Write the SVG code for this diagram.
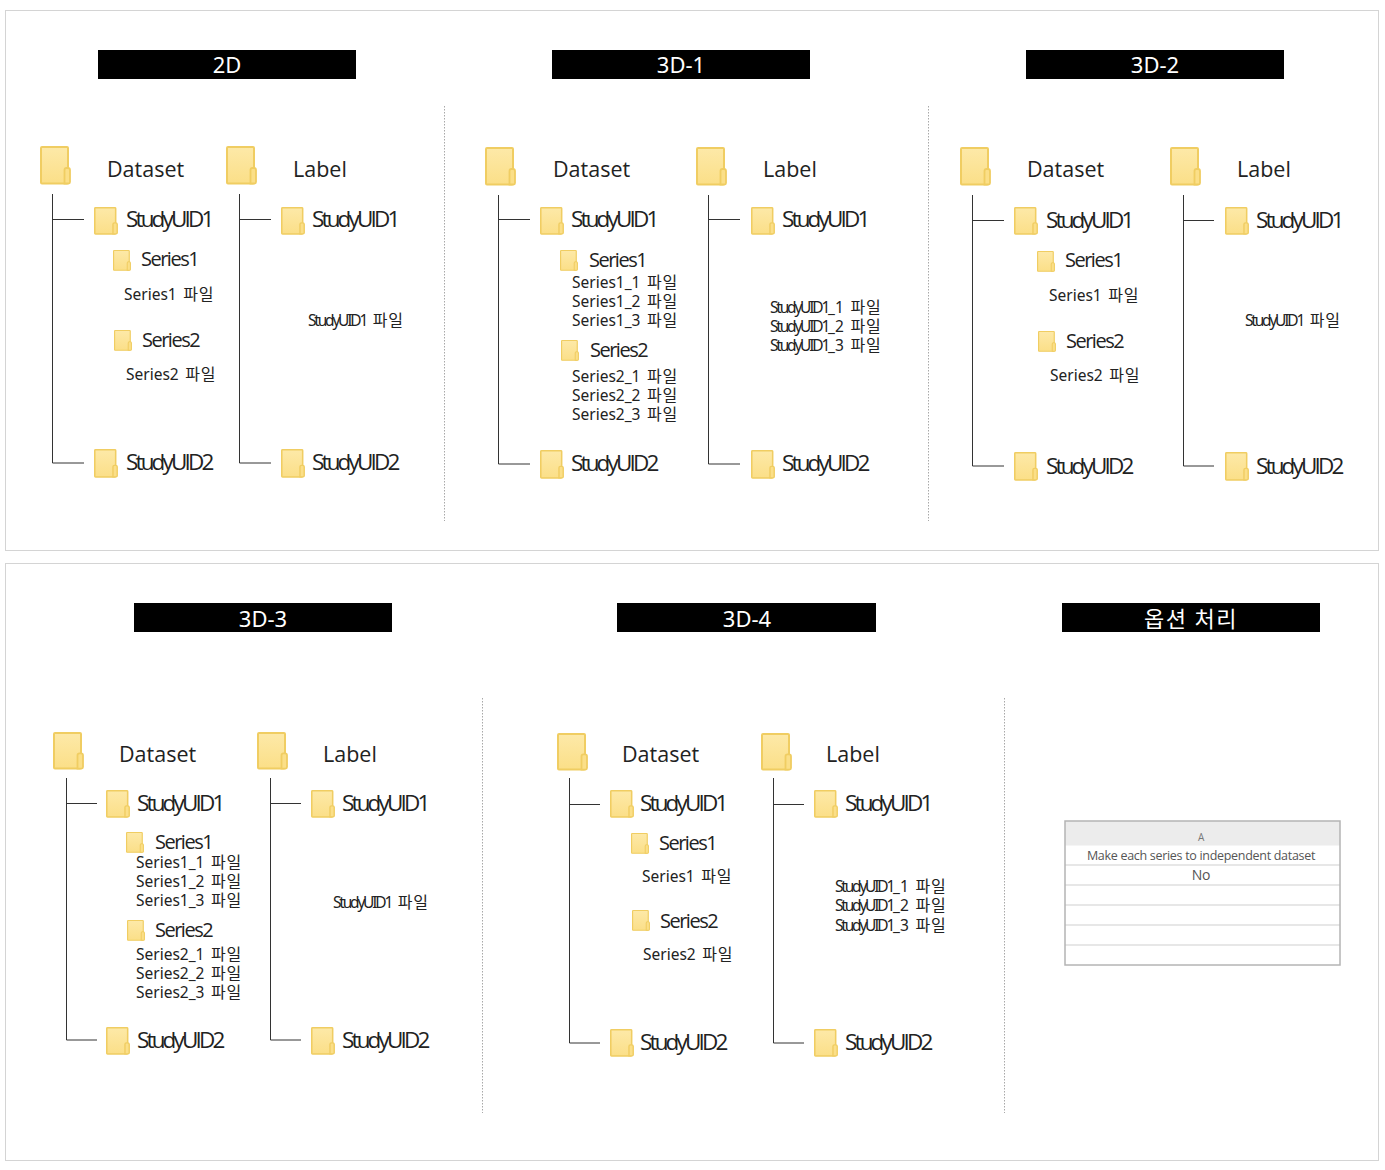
<svg xmlns="http://www.w3.org/2000/svg" width="1385" height="1170" viewBox="0 0 1385 1170">
<style>
text{font-family:"Open Sans","Noto Sans","Noto Sans CJK KR",sans-serif;fill:#222}
.h{font-size:22px;fill:#fff;text-anchor:middle;font-family:"Noto Sans","Noto Sans CJK KR",sans-serif}
.b{font-size:21.500px}
.m{font-size:22.500px;letter-spacing:-2.850px}
.s{font-size:20px;letter-spacing:-1.500px}
.f{font-size:15.500px;word-spacing:2.500px;font-family:"Noto Sans","Noto Sans CJK KR",sans-serif}
.t{letter-spacing:-2.200px}
.k{font-family:"Noto Sans CJK KR",sans-serif;font-size:16px;letter-spacing:.8px}
.hb{fill:#000}
.panel{fill:#fff;stroke:#d4d4d4;stroke-width:1}
.div{fill:none;stroke:#a8a8a8;stroke-width:1;stroke-dasharray:1.500 1.500}
.con{fill:none;stroke:#333;stroke-width:1}
.row{stroke:#dfdfdf;stroke-width:1.500;fill:none}
.x{font-size:12.500px;letter-spacing:-.3px;text-anchor:middle;fill:#555}
</style>
<defs>
<linearGradient id="fg" x1="0" y1="0" x2="0" y2="1"><stop offset="0" stop-color="#fde9a8"/><stop offset="1" stop-color="#fbdf88"/></linearGradient>
<symbol id="folder" viewBox="0 0 31 39" preserveAspectRatio="none">
<rect x="1" y="1" width="27" height="36.500" rx="1" fill="url(#fg)" stroke="#f0cd62" stroke-width="2"/>
<path d="M24.500 37.500V24Q24.500 22 26.500 22H28Q30 22 30 24V36Q30 37.500 28.500 37.500Z" fill="#fbdf88" stroke="#f0cd62" stroke-width="1.800"/>
</symbol>
</defs>
<rect width="1385" height="1170" fill="#fff"/>
<rect class="panel" x="5.500" y="10.500" width="1373" height="540"/>
<rect class="panel" x="5.500" y="563.500" width="1373" height="597"/>
<g id="dividers">
<path class="div" d="M444.500 106V521M928.500 106V521M482.500 698V1113M1004.500 698V1113"/>
</g>
<g id="connectors">
<path class="con" d="M52.500 194V463H84M52.500 219.500H84M239.500 194V463H271M239.500 219.500H271"/>
<path class="con" d="M498.500 195V464H530M498.500 219.500H530M708.500 195V464H740M708.500 219.500H740"/>
<path class="con" d="M972.500 195V466H1004M972.500 220.500H1004M1183.500 195V466H1214M1183.500 220.500H1214"/>
<path class="con" d="M66.500 778V1040H97M66.500 803.500H97M270.500 778V1040H301M270.500 803.500H301"/>
<path class="con" d="M569.500 778V1043H600M569.500 804.500H600M773.500 778V1043H804M773.500 804.500H804"/>
</g>

<g id="head-2d"><rect class="hb" x="98" y="50" width="258" height="29"/><text class="h" x="227" y="73">2D</text></g>
<g id="head-3d1"><rect class="hb" x="552" y="50" width="258" height="29"/><text class="h" x="681" y="73">3D-1</text></g>
<g id="head-3d2"><rect class="hb" x="1026" y="50" width="258" height="29"/><text class="h" x="1155" y="73">3D-2</text></g>
<g id="head-3d3"><rect class="hb" x="134" y="603" width="258" height="29"/><text class="h" x="263" y="627">3D-3</text></g>
<g id="head-3d4"><rect class="hb" x="617" y="603" width="259" height="29"/><text class="h" x="747" y="627">3D-4</text></g>
<g id="head-opt"><rect class="hb" x="1062" y="603" width="258" height="29"/><text class="h" x="1191" y="627" letter-spacing="1.500">옵션 처리</text></g>

<g id="p1-dataset"><use href="#folder" x="40" y="146" width="31" height="39"/><text class="b" x="107" y="177">Dataset</text></g>
<g id="p1-label"><use href="#folder" x="226" y="146" width="31" height="39"/><text class="b" x="293" y="177">Label</text></g>
<g id="p1-d-s1"><use href="#folder" x="94" y="207" width="24" height="28"/><text class="m" x="126" y="227">StudyUID1</text></g>
<g id="p1-d-s2"><use href="#folder" x="94" y="449" width="24" height="29"/><text class="m" x="126" y="470">StudyUID2</text></g>
<g id="p1-l-s1"><use href="#folder" x="281" y="207" width="24" height="28"/><text class="m" x="312" y="227">StudyUID1</text></g>
<g id="p1-l-s2"><use href="#folder" x="281" y="449" width="24" height="29"/><text class="m" x="312" y="470">StudyUID2</text></g>
<g id="p1-se1"><use href="#folder" x="113" y="250" width="18" height="21"/><text class="s" x="141" y="266">Series1</text></g>
<g id="p1-se2"><use href="#folder" x="114" y="330" width="18" height="21"/><text class="s" x="142" y="347">Series2</text></g>
<g id="p1-f1"><text class="f" x="124" y="300">Series1 <tspan class="k">파일</tspan></text></g>
<g id="p1-f2"><text class="f" x="126" y="380">Series2 <tspan class="k">파일</tspan></text></g>
<g id="p1-lf"><text class="f" x="308" y="326"><tspan class="t">StudyUID1</tspan> <tspan class="k">파일</tspan></text></g>

<g id="p2-dataset"><use href="#folder" x="485" y="147" width="31" height="39"/><text class="b" x="553" y="177">Dataset</text></g>
<g id="p2-label"><use href="#folder" x="696" y="147" width="31" height="39"/><text class="b" x="763" y="177">Label</text></g>
<g id="p2-d-s1"><use href="#folder" x="540" y="207" width="24" height="28"/><text class="m" x="571" y="227">StudyUID1</text></g>
<g id="p2-d-s2"><use href="#folder" x="540" y="450" width="24" height="29"/><text class="m" x="571" y="471">StudyUID2</text></g>
<g id="p2-l-s1"><use href="#folder" x="751" y="207" width="24" height="28"/><text class="m" x="782" y="227">StudyUID1</text></g>
<g id="p2-l-s2"><use href="#folder" x="751" y="450" width="24" height="29"/><text class="m" x="782" y="471">StudyUID2</text></g>
<g id="p2-se1"><use href="#folder" x="560" y="250" width="18" height="21"/><text class="s" x="589" y="267">Series1</text></g>
<g id="p2-se2"><use href="#folder" x="561" y="340" width="18" height="21"/><text class="s" x="590" y="357">Series2</text></g>
<g id="p2-f1"><text class="f" x="572" y="288">Series1_1 <tspan class="k">파일</tspan></text><text class="f" x="572" y="307">Series1_2 <tspan class="k">파일</tspan></text><text class="f" x="572" y="326">Series1_3 <tspan class="k">파일</tspan></text></g>
<g id="p2-f2"><text class="f" x="572" y="382">Series2_1 <tspan class="k">파일</tspan></text><text class="f" x="572" y="401">Series2_2 <tspan class="k">파일</tspan></text><text class="f" x="572" y="420">Series2_3 <tspan class="k">파일</tspan></text></g>
<g id="p2-lf"><text class="f" x="770" y="313"><tspan class="t">StudyUID1</tspan>_1 <tspan class="k">파일</tspan></text><text class="f" x="770" y="332"><tspan class="t">StudyUID1</tspan>_2 <tspan class="k">파일</tspan></text><text class="f" x="770" y="351"><tspan class="t">StudyUID1</tspan>_3 <tspan class="k">파일</tspan></text></g>

<g id="p3-dataset"><use href="#folder" x="960" y="147" width="31" height="39"/><text class="b" x="1027" y="177">Dataset</text></g>
<g id="p3-label"><use href="#folder" x="1170" y="147" width="31" height="39"/><text class="b" x="1237" y="177">Label</text></g>
<g id="p3-d-s1"><use href="#folder" x="1014" y="207" width="24" height="28"/><text class="m" x="1046" y="228">StudyUID1</text></g>
<g id="p3-d-s2"><use href="#folder" x="1014" y="452" width="24" height="29"/><text class="m" x="1046" y="474">StudyUID2</text></g>
<g id="p3-l-s1"><use href="#folder" x="1225" y="207" width="24" height="28"/><text class="m" x="1256" y="228">StudyUID1</text></g>
<g id="p3-l-s2"><use href="#folder" x="1225" y="452" width="24" height="29"/><text class="m" x="1256" y="474">StudyUID2</text></g>
<g id="p3-se1"><use href="#folder" x="1037" y="251" width="18" height="21"/><text class="s" x="1065" y="267">Series1</text></g>
<g id="p3-se2"><use href="#folder" x="1038" y="331" width="18" height="21"/><text class="s" x="1066" y="348">Series2</text></g>
<g id="p3-f1"><text class="f" x="1049" y="301">Series1 <tspan class="k">파일</tspan></text></g>
<g id="p3-f2"><text class="f" x="1050" y="381">Series2 <tspan class="k">파일</tspan></text></g>
<g id="p3-lf"><text class="f" x="1245" y="326"><tspan class="t">StudyUID1</tspan> <tspan class="k">파일</tspan></text></g>

<g id="p4-dataset"><use href="#folder" x="53" y="732" width="31" height="38"/><text class="b" x="119" y="762">Dataset</text></g>
<g id="p4-label"><use href="#folder" x="257" y="732" width="31" height="38"/><text class="b" x="323" y="762">Label</text></g>
<g id="p4-d-s1"><use href="#folder" x="106" y="790" width="24" height="28"/><text class="m" x="137" y="811">StudyUID1</text></g>
<g id="p4-d-s2"><use href="#folder" x="106" y="1027" width="24" height="28"/><text class="m" x="137" y="1048">StudyUID2</text></g>
<g id="p4-l-s1"><use href="#folder" x="311" y="790" width="24" height="28"/><text class="m" x="342" y="811">StudyUID1</text></g>
<g id="p4-l-s2"><use href="#folder" x="311" y="1027" width="24" height="28"/><text class="m" x="342" y="1048">StudyUID2</text></g>
<g id="p4-se1"><use href="#folder" x="126" y="832" width="18" height="21"/><text class="s" x="155" y="849">Series1</text></g>
<g id="p4-se2"><use href="#folder" x="127" y="920" width="18" height="21"/><text class="s" x="155" y="937">Series2</text></g>
<g id="p4-f1"><text class="f" x="136" y="868">Series1_1 <tspan class="k">파일</tspan></text><text class="f" x="136" y="887">Series1_2 <tspan class="k">파일</tspan></text><text class="f" x="136" y="906">Series1_3 <tspan class="k">파일</tspan></text></g>
<g id="p4-f2"><text class="f" x="136" y="960">Series2_1 <tspan class="k">파일</tspan></text><text class="f" x="136" y="979">Series2_2 <tspan class="k">파일</tspan></text><text class="f" x="136" y="998">Series2_3 <tspan class="k">파일</tspan></text></g>
<g id="p4-lf"><text class="f" x="333" y="908"><tspan class="t">StudyUID1</tspan> <tspan class="k">파일</tspan></text></g>

<g id="p5-dataset"><use href="#folder" x="557" y="733" width="31" height="38"/><text class="b" x="622" y="762">Dataset</text></g>
<g id="p5-label"><use href="#folder" x="761" y="733" width="31" height="38"/><text class="b" x="826" y="762">Label</text></g>
<g id="p5-d-s1"><use href="#folder" x="610" y="790" width="24" height="28"/><text class="m" x="640" y="811">StudyUID1</text></g>
<g id="p5-d-s2"><use href="#folder" x="610" y="1029" width="24" height="28"/><text class="m" x="640" y="1050">StudyUID2</text></g>
<g id="p5-l-s1"><use href="#folder" x="814" y="790" width="24" height="28"/><text class="m" x="845" y="811">StudyUID1</text></g>
<g id="p5-l-s2"><use href="#folder" x="814" y="1029" width="24" height="28"/><text class="m" x="845" y="1050">StudyUID2</text></g>
<g id="p5-se1"><use href="#folder" x="631" y="833" width="18" height="21"/><text class="s" x="659" y="850">Series1</text></g>
<g id="p5-se2"><use href="#folder" x="632" y="910" width="18" height="21"/><text class="s" x="660" y="928">Series2</text></g>
<g id="p5-f1"><text class="f" x="642" y="882">Series1 <tspan class="k">파일</tspan></text></g>
<g id="p5-f2"><text class="f" x="643" y="960">Series2 <tspan class="k">파일</tspan></text></g>
<g id="p5-lf"><text class="f" x="835" y="892"><tspan class="t">StudyUID1</tspan>_1 <tspan class="k">파일</tspan></text><text class="f" x="835" y="911"><tspan class="t">StudyUID1</tspan>_2 <tspan class="k">파일</tspan></text><text class="f" x="835" y="931"><tspan class="t">StudyUID1</tspan>_3 <tspan class="k">파일</tspan></text></g>

<g id="option-table">
<rect x="1065" y="821" width="275" height="144" fill="#fff"/>
<rect x="1065" y="821" width="275" height="24.500" fill="#ececec"/>
<path class="row" d="M1065 865H1340M1065 885H1340M1065 905H1340M1065 925H1340M1065 945H1340"/>
<rect x="1065" y="821" width="275" height="144" fill="none" stroke="#b4b4b4" stroke-width="1.500"/>
<text class="x" x="1201" y="841" style="font-size:10px;fill:#777">A</text>
<text class="x" x="1201" y="860">Make each series to independent dataset</text>
<text class="x" x="1201" y="880" style="font-size:14px">No</text>
</g>
</svg>
